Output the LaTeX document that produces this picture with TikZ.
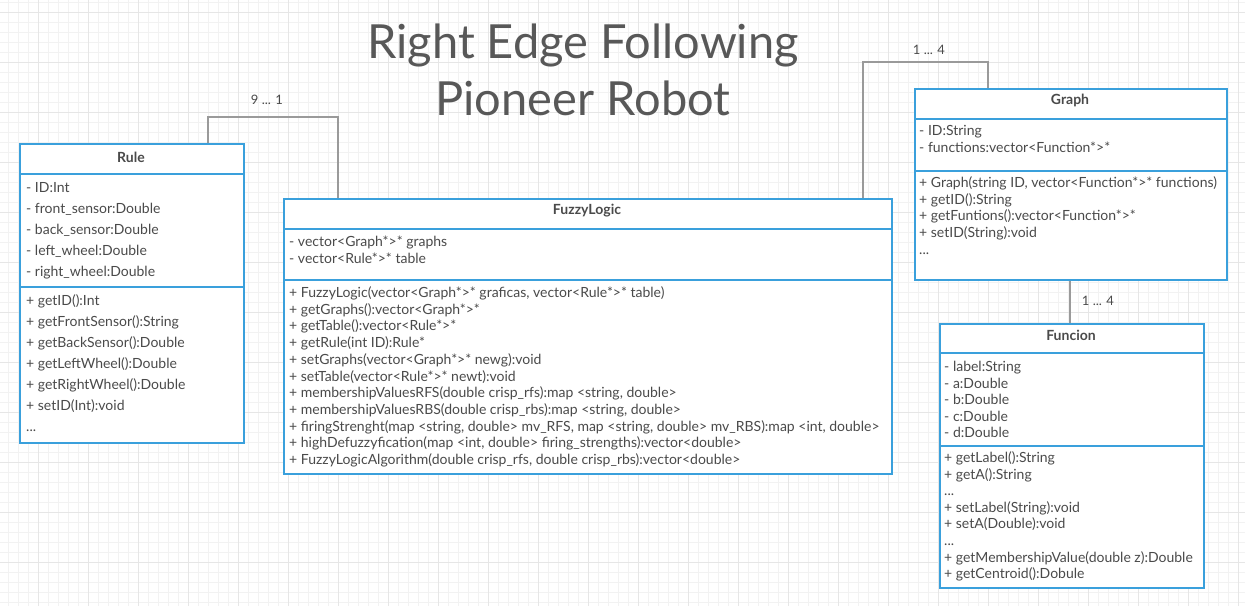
\documentclass[tikz,border=0pt]{standalone}
\usepackage{fontspec}
\setmainfont{Lato}
\newfontfamily\titlefont{Lato}
\definecolor{boxblue}{HTML}{3AA0DC}
\definecolor{txt}{HTML}{4A4A4A}
\definecolor{conncol}{HTML}{9A9A9A}
\definecolor{gridminor}{HTML}{F2F2F2}
\definecolor{gridmajor}{HTML}{E6E6E6}
\newcommand{\mlines}[1]{\renewcommand{\arraystretch}{1}\begin{tabular}[t]{@{}l@{}}#1\end{tabular}}
\newcommand{\clines}[1]{\renewcommand{\arraystretch}{1}\begin{tabular}[t]{@{}c@{}}#1\end{tabular}}
\tikzset{
  classbox/.style={draw=boxblue, line width=2pt, fill=white, rectangle, inner sep=0pt, anchor=north west},
  sepline/.style={draw=boxblue, line width=2pt},
  conn/.style={draw=conncol, line width=1.6pt},
  ctitle/.style={font=\fontsize{14}{16}\selectfont\bfseries, text=txt, inner sep=0pt},
  members/.style={anchor=base west, inner sep=0pt, text=txt},
  mult/.style={font=\fontsize{13}{15}\selectfont, text=txt, inner sep=0pt},
}
\begin{document}
\begin{tikzpicture}[x=1pt, y=-1pt]
\useasboundingbox (0,0) rectangle (1245,606);
\fill[white] (0,0) rectangle (1245,606);
% grid
\foreach \gx in {8,18,...,1238} \draw[gridminor, line width=0.8pt] (\gx,0) -- (\gx,606);
\foreach \gy in {2.7,12.7,...,602.7} \draw[gridminor, line width=0.8pt] (0,\gy) -- (1245,\gy);
\foreach \gx in {38,88,...,1238} \draw[gridmajor, line width=0.8pt] (\gx,0) -- (\gx,606);
\foreach \gy in {12.7,62.7,...,602.7} \draw[gridmajor, line width=0.8pt] (0,\gy) -- (1245,\gy);

% title
\node[font=\titlefont\fontsize{47}{57.5}\selectfont, text=txt!92, anchor=base, inner sep=0pt] (title) at (583,58) {\clines{Right Edge Following\\Pioneer Robot}};

% ---------- Rule ----------
\node[classbox, minimum width=224pt, minimum height=299pt] (rule) at (19,143) {};
\draw[sepline] (19,174) -- (243,174);
\draw[sepline] (19,287) -- (243,287);
\node[ctitle] (ruleT) at (131,157) {Rule};
\node[members, font=\fontsize{14}{21}\selectfont] (ruleA) at (26,192.5) {\mlines{- ID:Int\\- front\_sensor:Double\\- back\_sensor:Double\\- left\_wheel:Double\\- right\_wheel:Double}};
\node[members, font=\fontsize{14}{21}\selectfont] (ruleM) at (26,305.5) {\mlines{+ getID():Int\\+ getFrontSensor():String\\+ getBackSensor():Double\\+ getLeftWheel():Double\\+ getRightWheel():Double\\+ setID(Int):void\\...}};

% ---------- FuzzyLogic ----------
\node[classbox, minimum width=608pt, minimum height=275pt] (fl) at (283,198) {};
\draw[sepline] (283,229) -- (891,229);
\draw[sepline] (283,280) -- (891,280);
\node[ctitle] (flT) at (587,211) {FuzzyLogic};
\node[members, font=\fontsize{14}{16.7}\selectfont] (flA) at (289,246.5) {\mlines{- vector<Graph*>* graphs\\- vector<Rule*>* table}};
\node[members, font=\fontsize{14}{16.7}\selectfont] (flM) at (289,297.5) {\mlines{+ FuzzyLogic(vector<Graph*>* graficas, vector<Rule*>* table)\\
+ getGraphs():vector<Graph*>*\\
+ getTable():vector<Rule*>*\\
+ getRule(int ID):Rule*\\
+ setGraphs(vector<Graph*>* newg):void\\
+ setTable(vector<Rule*>* newt):void\\
+ membershipValuesRFS(double crisp\_rfs):map <string, double>\\
+ membershipValuesRBS(double crisp\_rbs):map <string, double>\\
+ firingStrenght(map <string, double> mv\_RFS, map <string, double> mv\_RBS):map <int, double>\\
+ highDefuzzyfication(map <int, double> firing\_strengths):vector<double>\\
+ FuzzyLogicAlgorithm(double crisp\_rfs, double crisp\_rbs):vector<double>}};

% ---------- Graph ----------
\node[classbox, minimum width=312pt, minimum height=191pt] (graph) at (914,88) {};
\draw[sepline] (914,119) -- (1226,119);
\draw[sepline] (914,171) -- (1226,171);
\node[ctitle] (graphT) at (1070,100) {Graph};
\node[members, font=\fontsize{14}{16.7}\selectfont] (graphA) at (919,135.5) {\mlines{- ID:String\\- functions:vector<Function*>*}};
\node[members, font=\fontsize{14}{16.7}\selectfont] (graphM) at (919,187.5) {\mlines{+ Graph(string ID, vector<Function*>* functions)\\+ getID():String\\+ getFuntions():vector<Function*>*\\+ setID(String):void\\...}};

% ---------- Funcion ----------
\node[classbox, minimum width=264pt, minimum height=264pt] (fun) at (939,323) {};
\draw[sepline] (939,353) -- (1203,353);
\draw[sepline] (939,446) -- (1203,446);
\node[ctitle] (funT) at (1071,335) {Funcion};
\node[members, font=\fontsize{14}{16.6}\selectfont] (funA) at (944,371.5) {\mlines{- label:String\\- a:Double\\- b:Double\\- c:Double\\- d:Double}};
\node[members, font=\fontsize{14}{16.6}\selectfont] (funM) at (944,462.5) {\mlines{+ getLabel():String\\+ getA():String\\...\\+ setLabel(String):void\\+ setA(Double):void\\...\\+ getMembershipValue(double z):Double\\+ getCentroid():Dobule}};

% ---------- connectors ----------
\coordinate (c1) at (208,117);
\coordinate (c2) at (338,117);
\draw[conn] (rule.north -| c1) -- (c1) -- (c2) -- (fl.north -| c2);
\node[mult] (m1) at (267,100) {9 ... 1};

\coordinate (c3) at (863,62);
\coordinate (c4) at (988,62);
\draw[conn] (fl.north -| c3) -- (c3) -- (c4) -- (graph.north -| c4);
\node[mult] (m2) at (929,50) {1 ... 4};

\coordinate (c5) at (1070,0);
\draw[conn] (graph.south -| c5) -- (fun.north -| c5);
\node[mult] (m3) at (1098,301) {1 ... 4};
\end{tikzpicture}
\end{document}
